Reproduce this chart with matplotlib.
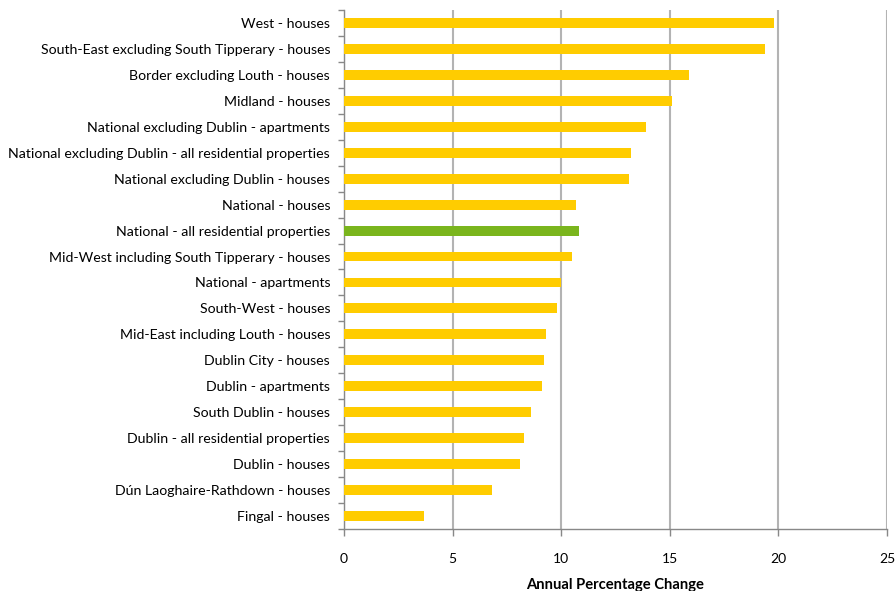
import matplotlib
matplotlib.use("Agg")
import matplotlib.pyplot as plt
import numpy as np

categories = [
    "West - houses",
    "South-East excluding South Tipperary - houses",
    "Border excluding Louth - houses",
    "Midland - houses",
    "National excluding Dublin - apartments",
    "National excluding Dublin - all residential properties",
    "National excluding Dublin - houses",
    "National - houses",
    "National - all residential properties",
    "Mid-West including South Tipperary - houses",
    "National - apartments",
    "South-West - houses",
    "Mid-East including Louth - houses",
    "Dublin City - houses",
    "Dublin - apartments",
    "South Dublin - houses",
    "Dublin - all residential properties",
    "Dublin - houses",
    "Dún Laoghaire-Rathdown - houses",
    "Fingal - houses",
]
values = [19.8, 19.4, 15.9, 15.1, 13.9, 13.2, 13.1, 10.7, 10.8, 10.5,
          10.0, 9.8, 9.3, 9.2, 9.1, 8.6, 8.3, 8.1, 6.8, 3.7]
highlight = "National - all residential properties"
xticks = [0, 5, 10, 15, 20, 25]
xlabel = "Annual Percentage Change"

plt.rcParams['font.family'] = ['Lato', 'DejaVu Sans']

fig = plt.figure(figsize=(8.96, 5.91), dpi=100)
ax = fig.add_axes([344/896, 1 - 529/591, (887-344)/896, (529-10)/591])

n = len(categories)
y = np.arange(n)
colors = ["#7AB51D" if c == highlight else "#FFCC00" for c in categories]
ax.barh(y, values, height=0.38, color=colors, zorder=3)

ax.set_ylim(n - 0.5, -0.5)
ax.set_xlim(0, 25)
ax.set_xticks(xticks)
ax.set_xticklabels([str(t) for t in xticks], fontsize=10)
ax.set_yticks(y)
ax.set_yticklabels(categories, fontsize=10.2)
ax.set_yticks(np.arange(-0.5, n, 1), minor=True)
ax.tick_params(axis='y', which='major', length=0, pad=10)
ax.tick_params(axis='y', which='minor', length=4, color='#888888', width=1)
ax.tick_params(axis='x', which='major', length=5, color='#888888', width=1, pad=12)

ax.grid(axis='x', color='#B3B3B3', linewidth=1.5, zorder=0)
for s in ['top', 'right']:
    ax.spines[s].set_visible(False)
for s in ['left', 'bottom']:
    ax.spines[s].set_color('#888888')
    ax.spines[s].set_linewidth(1)

ax.set_xlabel(xlabel, fontsize=10.6, fontweight='bold', labelpad=10)

fig.savefig("out.png", dpi=100)
